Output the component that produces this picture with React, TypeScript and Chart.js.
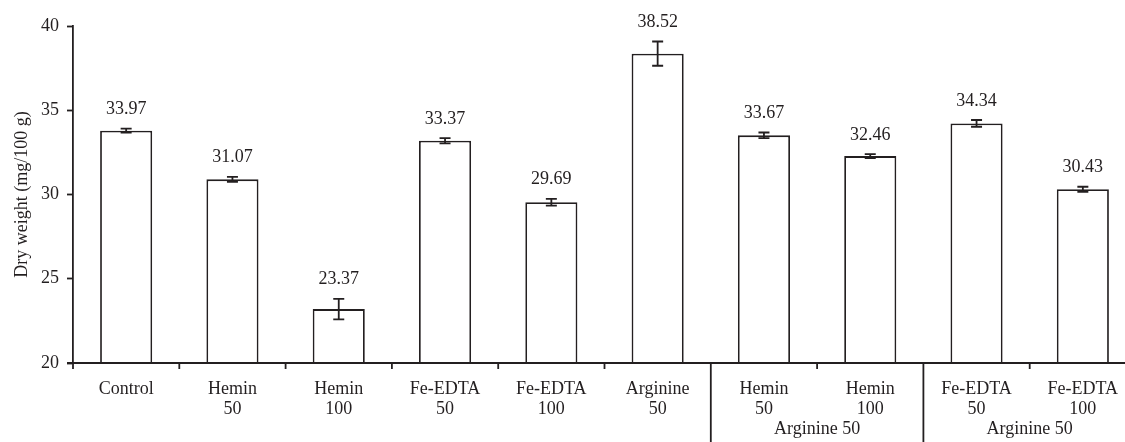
import React, { useEffect, useRef } from "react";
import { Chart, registerables } from "chart.js";

Chart.register(...registerables);

// ---- data ----
const categoryLines: string[][] = [
  ["Control"],
  ["Hemin", "50"],
  ["Hemin", "100"],
  ["Fe-EDTA", "50"],
  ["Fe-EDTA", "100"],
  ["Arginine", "50"],
  ["Hemin", "50"],
  ["Hemin", "100"],
  ["Fe-EDTA", "50"],
  ["Fe-EDTA", "100"],
];
const barValues = [33.79, 30.9, 23.2, 33.19, 29.54, 38.36, 33.51, 32.28, 34.22, 30.31];
const errorValues = [0.12, 0.15, 0.61, 0.16, 0.2, 0.72, 0.17, 0.12, 0.2, 0.15];
const valueLabels = ["33.97", "31.07", "23.37", "33.37", "29.69", "38.52", "33.67", "32.46", "34.34", "30.43"];
const groupLabel = "Arginine 50";
const groupFirst = [6, 8];
const groupSize = 2;
const yMin = 20;
const yMax = 40;
const yStep = 5;
const yTitle = "Dry weight (mg/100 g)";

const INK = "#231f20";
const LINE = 1.8;
const FONT = "'Liberation Serif', 'Times New Roman', serif";

const overlayPlugin = {
  id: "overlay",
  afterDatasetsDraw(chart: any) {
    const ctx = chart.ctx;
    const x = chart.scales.x;
    const y = chart.scales.y;
    ctx.save();
    ctx.strokeStyle = INK;
    ctx.lineWidth = LINE;
    ctx.fillStyle = INK;
    ctx.font = `18px ${FONT}`;
    ctx.textAlign = "center";
    ctx.textBaseline = "alphabetic";
    barValues.forEach((v, i) => {
      const cx = x.getPixelForValue(i);
      const top = y.getPixelForValue(v + errorValues[i]);
      const bot = y.getPixelForValue(v - errorValues[i]);
      ctx.beginPath();
      ctx.moveTo(cx, top);
      ctx.lineTo(cx, bot);
      ctx.moveTo(cx - 5.5, top);
      ctx.lineTo(cx + 5.5, top);
      ctx.moveTo(cx - 5.5, bot);
      ctx.lineTo(cx + 5.5, bot);
      ctx.stroke();
      ctx.fillText(valueLabels[i], cx, top - 14.5);
    });
    ctx.restore();
  },
  afterDraw(chart: any) {
    const ctx = chart.ctx;
    const area = chart.chartArea;
    const x = chart.scales.x;
    const n = categoryLines.length;
    const step = (area.right - area.left) / n;
    ctx.save();
    ctx.strokeStyle = INK;
    ctx.lineWidth = LINE;
    // x axis line
    ctx.beginPath();
    ctx.moveTo(area.left - 6, area.bottom);
    ctx.lineTo(area.right, area.bottom);
    ctx.stroke();
    // boundary ticks and group separators
    for (let b = 0; b <= n; b++) {
      const bx = area.left + b * step;
      const isSep = groupFirst.includes(b);
      ctx.beginPath();
      ctx.moveTo(bx, area.bottom);
      ctx.lineTo(bx, isSep ? chart.height : area.bottom + 6);
      ctx.stroke();
    }
    // category labels
    ctx.fillStyle = INK;
    ctx.font = `18px ${FONT}`;
    ctx.textAlign = "center";
    ctx.textBaseline = "alphabetic";
    categoryLines.forEach((lines, i) => {
      const cx = x.getPixelForValue(i);
      lines.forEach((t, k) => {
        ctx.fillText(t, cx, area.bottom + 31 + k * 20);
      });
    });
    // group labels
    groupFirst.forEach((g) => {
      const cx = (x.getPixelForValue(g) + x.getPixelForValue(g + groupSize - 1)) / 2;
      ctx.fillText(groupLabel, cx, area.bottom + 71);
    });
    ctx.restore();
  },
};

export default function App() {
  const ref = useRef<HTMLCanvasElement | null>(null);
  useEffect(() => {
    if (!ref.current) return;
    const chart = new Chart(ref.current, {
      type: "bar",
      data: {
        labels: categoryLines.map((l) => l.join(" ")),
        datasets: [
          {
            data: barValues,
            backgroundColor: "#ffffff",
            borderColor: INK,
            borderWidth: LINE,
            borderSkipped: "bottom",
            barPercentage: 0.49,
            categoryPercentage: 1,
          },
        ],
      },
      options: {
        responsive: false,
        animation: false,
        devicePixelRatio: 1,
        layout: { padding: { top: 26, bottom: 79, left: 0, right: 1 } },
        plugins: {
          legend: { display: false },
          tooltip: { enabled: false },
        },
        scales: {
          x: { display: false },
          y: {
            min: yMin,
            max: yMax,
            afterFit: (scale: any) => {
              scale.width = 73;
            },
            ticks: {
              stepSize: yStep,
              color: INK,
              padding: 8,
              font: { family: FONT, size: 18 },
            },
            grid: {
              drawOnChartArea: false,
              drawTicks: true,
              tickLength: 6,
              tickColor: INK,
              tickWidth: LINE,
            },
            border: { display: true, color: INK, width: LINE },
            title: {
              display: true,
              text: yTitle,
              color: INK,
              font: { family: FONT, size: 18 },
              padding: { top: 11, bottom: 0 },
            },
          },
        },
      },
      plugins: [overlayPlugin],
    });
    return () => chart.destroy();
  }, []);
  return (
    <div
      style={{
        position: "fixed",
        left: 0,
        top: 0,
        width: 1125,
        height: 442,
        overflow: "hidden",
        background: "#fff",
      }}
    >
      <canvas ref={ref} width={1137} height={442} style={{ display: "block" }} />
    </div>
  );
}
